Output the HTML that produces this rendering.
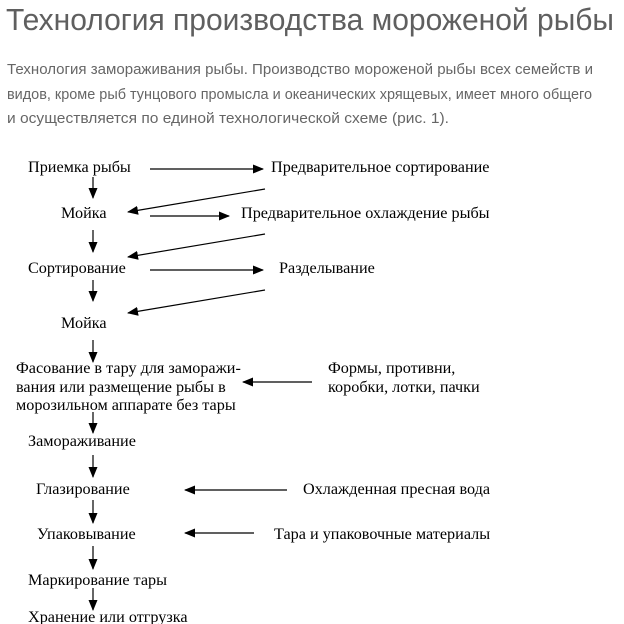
<!DOCTYPE html>
<html><head><meta charset="utf-8"><style>
html,body{margin:0;padding:0;background:#fff;width:624px;height:624px;overflow:hidden}
</style></head><body>
<svg width="624" height="624" xmlns="http://www.w3.org/2000/svg">
<defs>
<marker id="a" markerWidth="11" markerHeight="9" refX="10" refY="4.5" orient="auto" markerUnits="userSpaceOnUse">
<path d="M0,0 L11,4.5 L0,9 Z" fill="#000"/></marker>
</defs>
<text x="6" y="30" font-family="Liberation Sans, sans-serif" font-size="30.2" fill="#5f5f5f" textLength="608" lengthAdjust="spacingAndGlyphs">Технология производства мороженой рыбы</text>
<g font-family="Liberation Sans, sans-serif" font-size="15" fill="#666">
<text x="7" y="74" textLength="586" lengthAdjust="spacingAndGlyphs">Технология замораживания рыбы. Производство мороженой рыбы всех семейств и</text>
<text x="7" y="99" textLength="585" lengthAdjust="spacingAndGlyphs">видов, кроме рыб тунцового промысла и океанических хрящевых, имеет много общего</text>
<text x="7" y="123" textLength="442" lengthAdjust="spacingAndGlyphs">и осуществляется по единой технологической схеме (рис. 1).</text>
</g>
<g font-family="Liberation Serif, serif" font-size="16.2" fill="#000">
<text x="28" y="172">Приемка рыбы</text>
<text x="271" y="172">Предварительное сортирование</text>
<text x="61" y="218">Мойка</text>
<text x="241" y="218">Предварительное охлаждение рыбы</text>
<text x="28" y="273">Сортирование</text>
<text x="279" y="273">Разделывание</text>
<text x="61" y="328">Мойка</text>
<text x="16" y="373">Фасование в тару для заморажи-</text>
<text x="16" y="392">вания или размещение рыбы в</text>
<text x="16" y="410">морозильном аппарате без тары</text>
<text x="328" y="373">Формы, противни,</text>
<text x="328" y="392">коробки, лотки, пачки</text>
<text x="28" y="446">Замораживание</text>
<text x="36" y="494">Глазирование</text>
<text x="303" y="494">Охлажденная пресная вода</text>
<text x="37" y="539">Упаковывание</text>
<text x="274" y="539">Тара и упаковочные материалы</text>
<text x="28" y="585">Маркирование тары</text>
<text x="28" y="622">Хранение или отгрузка</text>
</g>
<g stroke="#000" stroke-width="1.2" fill="none" marker-end="url(#a)">
<line x1="150" y1="169" x2="263" y2="169"/>
<line x1="150" y1="216" x2="229" y2="216"/>
<line x1="150" y1="270" x2="263" y2="270"/>
<line x1="265" y1="189" x2="128" y2="212"/>
<line x1="265" y1="234" x2="128" y2="257"/>
<line x1="265" y1="290" x2="128" y2="313"/>
<line x1="312" y1="382" x2="243" y2="382"/>
<line x1="287" y1="490" x2="185" y2="490"/>
<line x1="254" y1="533" x2="185" y2="533"/>
<line x1="93" y1="177" x2="93" y2="198"/>
<line x1="93" y1="230" x2="93" y2="252"/>
<line x1="93" y1="280" x2="93" y2="301"/>
<line x1="93" y1="340" x2="93" y2="362"/>
<line x1="93" y1="412" x2="93" y2="433"/>
<line x1="93" y1="455" x2="93" y2="477"/>
<line x1="93" y1="500" x2="93" y2="523"/>
<line x1="93" y1="546" x2="93" y2="569"/>
<line x1="93" y1="588" x2="93" y2="610"/>
</g>
</svg>
</body></html>
